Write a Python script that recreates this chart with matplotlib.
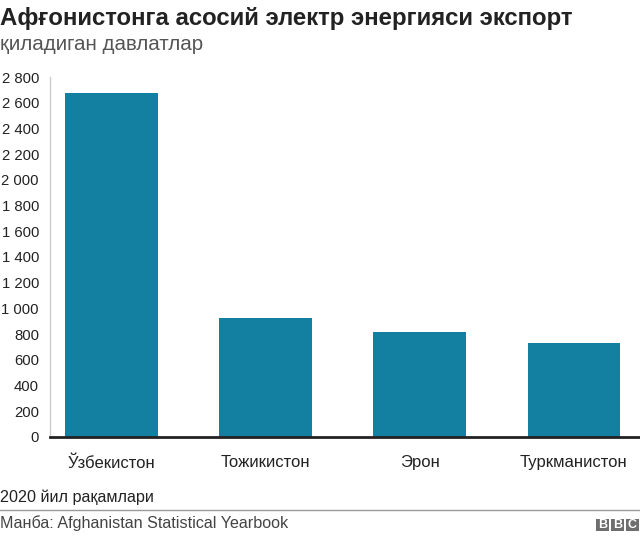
"""
Afghanistan electricity imports by exporting country (BBC style bar chart).
"""
import matplotlib
matplotlib.use("Agg")
import matplotlib.pyplot as plt
from matplotlib.patches import Rectangle
from matplotlib.lines import Line2D
from matplotlib.ticker import FuncFormatter

countries = ["Ўзбекистон", "Тожикистон", "Эрон", "Туркманистон"]
values = [2675, 925, 815, 730]
y_ticks = list(range(0, 2801, 200))

title = "Афғонистонга асосий электр энергияси экспорт"
subtitle = "қиладиган давлатлар"
note = "2020 йил рақамлари"
source = "Манба: Afghanistan Statistical Yearbook"

plt.rcParams["font.family"] = ["Liberation Sans", "DejaVu Sans"]

W, H = 640, 537
fig = plt.figure(figsize=(W / 100, H / 100), dpi=100)
ax = fig.add_axes([50 / W, (H - 437) / H, 590 / W, 360 / H])

ax.bar(range(len(countries)), values, width=0.6, color="#1380A1", zorder=2)

ax.set_xlim(-0.4, len(countries) - 0.57)
ax.set_ylim(0, 2800)
ax.set_yticks(y_ticks)
ax.yaxis.set_major_formatter(FuncFormatter(lambda v, p: f"{int(v):,}".replace(",", " ")))
ax.set_xticks(range(len(countries)))
ax.set_xticklabels(countries)
ax.tick_params(axis="y", length=0, pad=8, labelsize=10.7, labelcolor="#222222")
ax.tick_params(axis="x", length=0, pad=13, labelsize=12, labelcolor="#222222")

for s in ["top", "right"]:
    ax.spines[s].set_visible(False)
ax.spines["left"].set_color("#cccccc")
ax.spines["left"].set_linewidth(1)
ax.spines["bottom"].set_color("#222222")
ax.spines["bottom"].set_linewidth(2)
ax.spines["bottom"].set_zorder(3)

# headings
fig.text(0, 1 - 18 / H, title, fontsize=17.3, fontweight="bold", color="#222222",
         ha="left", va="center")
fig.text(0, 1 - 45 / H, subtitle, fontsize=14.8, color="#555555",
         ha="left", va="center")

# footer
fig.text(0, 1 - 497 / H, note, fontsize=11.6, color="#222222", ha="left", va="center")
fig.add_artist(Line2D([0, 1], [1 - 510 / H, 1 - 510 / H], transform=fig.transFigure,
                      color="#999999", linewidth=1))
fig.text(0, 1 - 523 / H, source, fontsize=11.6, color="#444444", ha="left", va="center")

# BBC blocks
for i, letter in enumerate("BBC"):
    x0 = (596 + i * 15) / W
    fig.add_artist(Rectangle((x0, 1 - 531 / H), 13 / W, 12 / H, transform=fig.transFigure,
                             facecolor="#6e6e6e", edgecolor="none"))
    fig.text(x0 + 6.5 / W, 1 - 525 / H, letter, fontsize=9, fontweight="bold",
             color="white", ha="center", va="center")

fig.savefig("out.png", dpi=100)
